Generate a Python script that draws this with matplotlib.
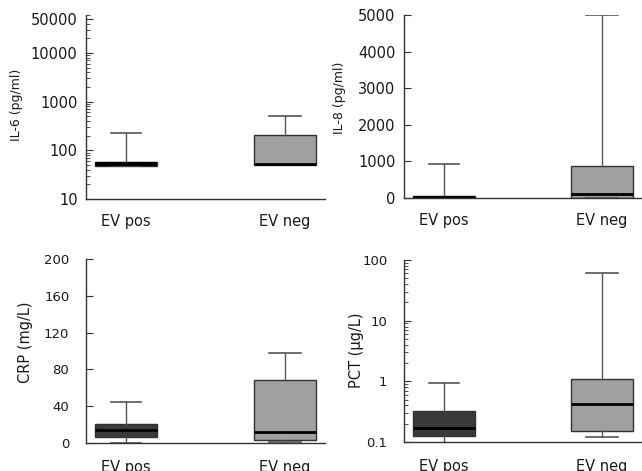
import matplotlib.pyplot as plt
from matplotlib.ticker import LogLocator, NullFormatter, FixedLocator

groups = ['EV pos', 'EV neg']

# five-number summaries: [whislo, q1, median, q3, whishi]
il6_pos = [47, 47, 52, 57, 225]
il6_neg = [50, 50, 52, 210, 500]
il8_pos = [0, 0, 30, 45, 920]
il8_neg = [0, 5, 110, 870, 5000]
crp_pos = [0, 6.5, 14, 20.5, 44.5]
crp_neg = [1, 3, 12, 68, 98]
pct_pos = [0.09, 0.125, 0.17, 0.33, 0.95]
pct_neg = [0.12, 0.15, 0.43, 1.09, 60]

il6_ticks = [10, 100, 1000, 10000, 50000]
il8_ticks = [0, 1000, 2000, 3000, 4000, 5000]
crp_ticks = [0, 40, 80, 120, 160, 200]
pct_ticks = [0.1, 1, 10, 100]
pct_labels = ['0.1', '1', '10', '100']


def stats(v, name):
    return dict(whislo=v[0], q1=v[1], med=v[2], q3=v[3], whishi=v[4], label=name, fliers=[])


def draw(ax, pos, neg, pos_color, med_lw_pos=2.0, xpad=11):
    bp = ax.bxp([stats(pos, groups[0]), stats(neg, groups[1])], positions=[1, 2],
                widths=0.39, capwidths=[0.19, 0.2], patch_artist=True, showfliers=False,
                boxprops=dict(edgecolor='#333333', linewidth=1.0),
                whiskerprops=dict(color='#555555', linewidth=1.0),
                capprops=dict(color='#555555', linewidth=1.2),
                medianprops=dict(color='black', linewidth=2.0))
    bp['boxes'][0].set_facecolor(pos_color)
    bp['boxes'][1].set_facecolor('#a0a0a0')
    bp['medians'][0].set_linewidth(med_lw_pos)
    ax.set_xlim(0.748, 2.252)
    for s in ['top', 'right']:
        ax.spines[s].set_visible(False)
    for s in ['left', 'bottom']:
        ax.spines[s].set_color('#333333')
        ax.spines[s].set_linewidth(1.0)
    ax.tick_params(axis='x', length=0, pad=xpad, labelsize=10.5, labelcolor='#1a1a1a')
    ax.tick_params(axis='y', which='major', direction='in', length=5, color='#333333')
    ax.tick_params(axis='y', which='minor', direction='in', length=3, color='#333333')
    ax.set_xticks([1, 2])
    ax.set_xticklabels(groups)


fig = plt.figure(figsize=(6.42, 4.71), dpi=100)
W, H = 642, 471
ax1 = fig.add_axes([86 / W, 1 - 199 / H, 239 / W, 184 / H])
ax2 = fig.add_axes([404 / W, 1 - 198 / H, 238 / W, 183 / H])
ax3 = fig.add_axes([86 / W, 1 - 443 / H, 239 / W, 184 / H])
ax4 = fig.add_axes([404 / W, 1 - 442 / H, 238 / W, 182 / H])

# IL-6
ax1.set_yscale('log')
draw(ax1, il6_pos, il6_neg, 'black', med_lw_pos=3.0)
ax1.set_ylim(10, 60000)
ax1.yaxis.set_major_locator(FixedLocator(il6_ticks))
ax1.set_yticklabels([str(t) for t in il6_ticks])
ax1.yaxis.set_minor_locator(LogLocator(base=10, subs=range(2, 10)))
ax1.yaxis.set_minor_formatter(NullFormatter())
ax1.tick_params(axis='y', labelsize=10.5, pad=6, labelcolor='#1a1a1a')
ax1.set_ylabel('IL-6 (pg/ml)', fontsize=9, color='#1a1a1a')
ax1.yaxis.set_label_coords(-0.262, 0.51)

# IL-8
draw(ax2, il8_pos, il8_neg, '#444444', med_lw_pos=1.5)
ax2.set_ylim(0, 5000)
ax2.set_yticks(il8_ticks)
ax2.set_yticklabels([str(t) for t in il8_ticks])
ax2.tick_params(axis='y', labelsize=10.5, pad=6, labelcolor='#1a1a1a')
ax2.set_ylabel('IL-8 (pg/ml)', fontsize=9, color='#1a1a1a')
ax2.yaxis.set_label_coords(-0.245, 0.55)

# CRP
draw(ax3, crp_pos, crp_neg, '#3a3a3a', xpad=12)
ax3.set_ylim(0, 200)
ax3.set_yticks(crp_ticks)
ax3.set_yticklabels([str(t) for t in crp_ticks])
ax3.tick_params(axis='y', labelsize=9.5, pad=12, labelcolor='#1a1a1a')
ax3.set_ylabel('CRP (mg/L)', fontsize=10.5, color='#1a1a1a')
ax3.yaxis.set_label_coords(-0.222, 0.55)

# PCT
ax4.set_yscale('log')
draw(ax4, pct_pos, pct_neg, '#3a3a3a', xpad=12)
ax4.set_ylim(0.1, 100)
ax4.yaxis.set_major_locator(FixedLocator(pct_ticks))
ax4.set_yticklabels(pct_labels)
ax4.yaxis.set_minor_locator(LogLocator(base=10, subs=range(2, 10)))
ax4.yaxis.set_minor_formatter(NullFormatter())
ax4.tick_params(axis='y', labelsize=9.5, pad=12, labelcolor='#1a1a1a')
ax4.set_ylabel('PCT (\u00b5g/L)', fontsize=10.5, color='#1a1a1a')
ax4.yaxis.set_label_coords(-0.17, 0.505)

fig.savefig('out.png', dpi=100)
